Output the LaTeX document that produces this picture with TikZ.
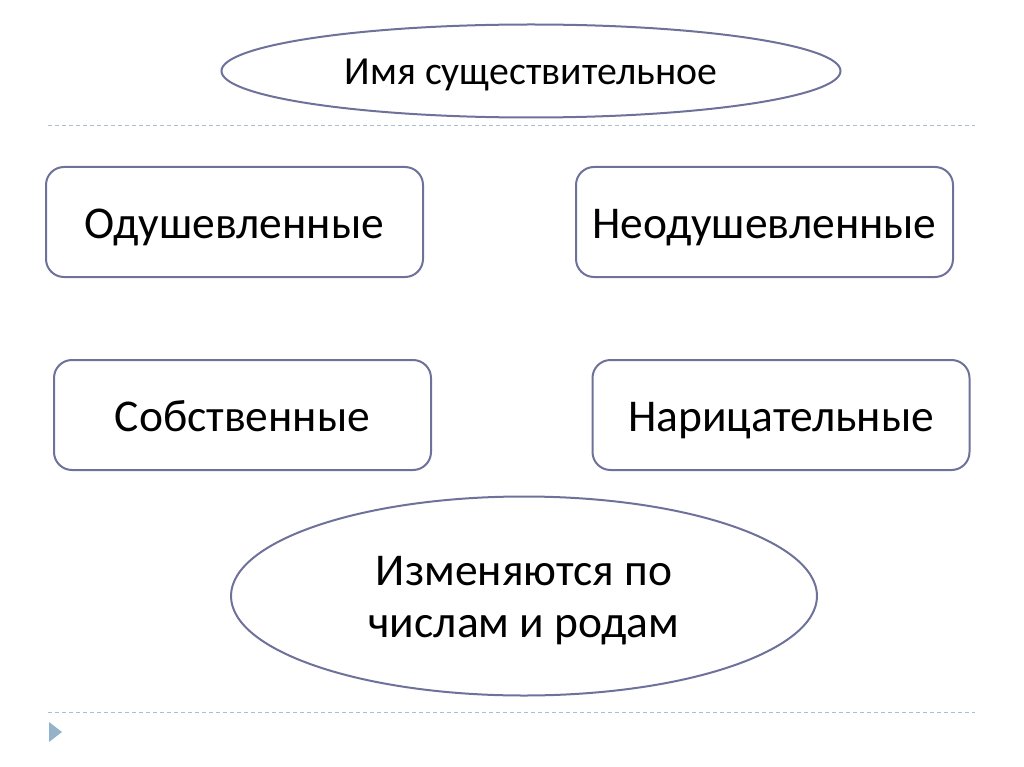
\documentclass[tikz,border=0pt]{standalone}
\usepackage{fontspec}
\setmainfont{Carlito}
\usetikzlibrary{shapes.geometric}
\definecolor{bord}{HTML}{6E7199}
\definecolor{dash}{HTML}{A9C0D0}
\definecolor{tri}{HTML}{94B3CB}
\tikzset{
  rbox/.style={draw=bord, line width=2pt, rounded corners=18pt, minimum width=377pt, minimum height=110pt, font=\fontsize{45.5}{52}\selectfont, inner sep=0pt, text height=32pt, text depth=0pt},
  oval/.style={draw=bord, line width=2pt, ellipse, inner sep=0pt},
  big/.style={font=\fontsize{45.5}{52}\selectfont, inner sep=0pt, anchor=base},
  sep/.style={draw=dash, line width=1pt, dash pattern=on 4pt off 3pt}
}
\begin{document}
\begin{tikzpicture}[x=1pt,y=-1pt]
\useasboundingbox (0,0) rectangle (1024,767);
\node[oval, minimum width=619pt, minimum height=93pt, font=\fontsize{39.8}{46}\selectfont, text height=28pt, text depth=0pt] (top) at (531,71) {Имя существительное};
\coordinate (d1a) at (48,126); \coordinate (d1b) at (975,126);
\draw[sep] (d1a) -- (d1b);
\node[rbox] (odu) at (234.5,222) {Одушевленные};
\node[rbox] (neodu) at (764.5,222) {Неодушевленные};
\node[rbox] (sob) at (242.5,415) {Собственные};
\node[rbox] (nar) at (781,415) {Нарицательные};
\node[oval, minimum width=586pt, minimum height=199pt] (izm) at (524,596) {};
\node[big] (izm1) at (524,585) {Изменяются по};
\node[big] (izm2) at (524,637) {числам и родам};
\coordinate (d2a) at (48,712); \coordinate (d2b) at (975,712);
\draw[sep] (d2a) -- (d2b);
\fill[tri] (49,722) -- (62,732) -- (49,742) -- cycle;
\end{tikzpicture}
\end{document}
